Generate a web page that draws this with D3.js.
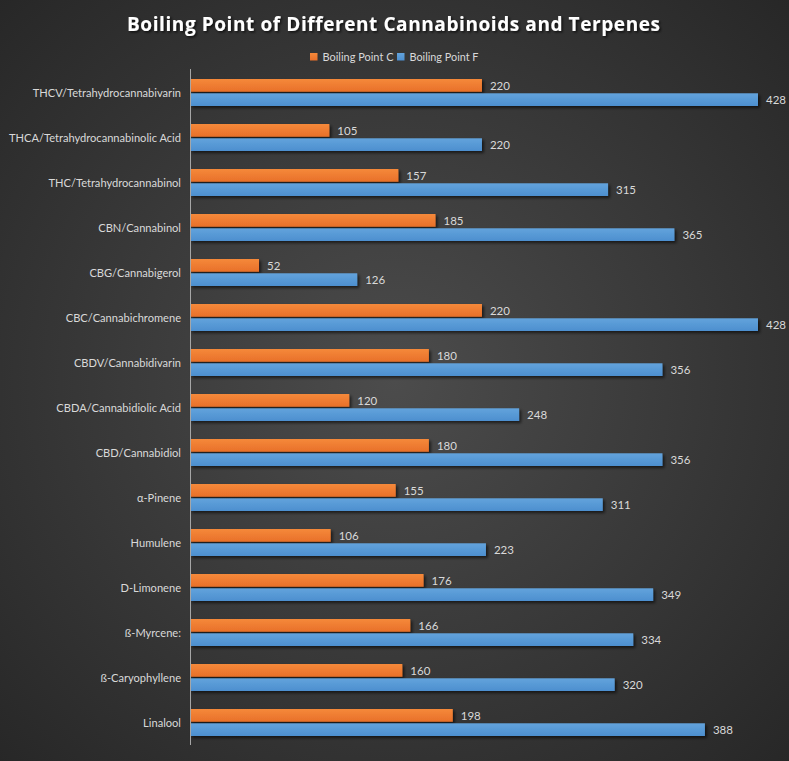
<!DOCTYPE html>
<html><head><meta charset="utf-8">
<script src="https://cdn.jsdelivr.net/npm/d3@7"></script>
<style>html,body{margin:0;padding:0;background:#333;}svg{display:block;}</style>
</head><body>
<script>
const categories = ["THCV/Tetrahydrocannabivarin","THCA/Tetrahydrocannabinolic Acid","THC/Tetrahydrocannabinol","CBN/Cannabinol","CBG/Cannabigerol","CBC/Cannabichromene","CBDV/Cannabidivarin","CBDA/Cannabidiolic Acid","CBD/Cannabidiol","α-Pinene","Humulene","D-Limonene","ß-Myrcene:","ß-Caryophyllene","Linalool"];
const boilingC = [220,105,157,185,52,220,180,120,180,155,106,176,166,160,198];
const boilingF = [428,220,315,365,126,428,356,248,356,311,223,349,334,320,388];
const seriesNames = ["Boiling Point C","Boiling Point F"];
const title = "Boiling Point of Different Cannabinoids and Terpenes";

const W = 789, H = 761;
const svg = d3.select("body").append("svg").attr("width", W).attr("height", H);
const defs = svg.append("defs");
const bg = defs.append("radialGradient").attr("id","bg").attr("cx","50%").attr("cy","50%").attr("r","75%");
bg.append("stop").attr("offset","0%").attr("stop-color","#4c4c4c");
bg.append("stop").attr("offset","100%").attr("stop-color","#252525");
svg.append("rect").attr("width",W).attr("height",H).attr("fill","url(#bg)");

const colors = [["#f5893a","#e8702a"],["#62a3dc","#4d8fcf"]];
colors.forEach((c,i)=>{
  const g = defs.append("linearGradient").attr("id","g"+i).attr("x1",0).attr("y1",0).attr("x2",0).attr("y2",1);
  g.append("stop").attr("offset","0%").attr("stop-color",c[0]);
  g.append("stop").attr("offset","100%").attr("stop-color",c[1]);
});
const sh = defs.append("filter").attr("id","sh").attr("x","-5%").attr("y","-30%").attr("width","115%").attr("height","180%");
sh.append("feDropShadow").attr("dx",2).attr("dy",2).attr("stdDeviation",1.5).attr("flood-color","#000").attr("flood-opacity",0.6);
const tsh = defs.append("filter").attr("id","tsh");
tsh.append("feDropShadow").attr("dx",1.5).attr("dy",1.5).attr("stdDeviation",1).attr("flood-color","#000").attr("flood-opacity",0.7);

const x = d3.scaleLinear().domain([0,428]).range([190,758]);
const y = d3.scaleBand().domain(categories).range([70,745]).paddingInner(0).paddingOuter(0);
const sub = d3.scaleBand().domain(seriesNames).range([9,36]).paddingInner(3/27);

// title
svg.append("text").attr("x",394).attr("y",31).attr("text-anchor","middle")
  .attr("font-family","Open Sans").attr("font-weight","bold").attr("font-size",19)
  .attr("letter-spacing",1).attr("fill","#ffffff").attr("filter","url(#tsh)")
  .attr("textLength",534).attr("lengthAdjust","spacing").text(title);

// legend
const leg = svg.append("g").attr("font-family","Lato").attr("font-size",11.5).attr("fill","#d9d9d9");
const legX = [310,397];
seriesNames.forEach((n,i)=>{
  leg.append("rect").attr("x",legX[i]).attr("y",53).attr("width",7.5).attr("height",7.5).attr("fill",`url(#g${i})`);
  leg.append("text").attr("x",legX[i]+12.5).attr("y",61).attr("textLength",i==0?71:69).attr("lengthAdjust","spacingAndGlyphs").text(n);
});

// bars
const series = [boilingC, boilingF];
const g = svg.append("g");
categories.forEach((cat,ci)=>{
  series.forEach((vals,si)=>{
    const by = y(cat)+sub(seriesNames[si]);
    g.append("rect").attr("x",x(0)).attr("y",by).attr("width",x(vals[ci])-x(0)).attr("height",sub.bandwidth())
      .attr("fill",`url(#g${si})`).attr("filter","url(#sh)");
    g.append("text").attr("x",x(vals[ci])+8).attr("y",by+sub.bandwidth()/2+4.5)
      .attr("font-family","Lato").attr("font-size",11.5).attr("fill","#d9d9d9").text(vals[ci]);
  });
});

// axis
const axis = d3.axisLeft(y).tickSize(0).tickPadding(9);
const ag = svg.append("g").attr("transform",`translate(${x(0)},0)`).call(axis);
ag.select(".domain").attr("stroke","#a6a6a6").attr("stroke-width",1).attr("d","M0.5,69V745");
ag.selectAll("text").attr("font-family","Lato").attr("font-size",11.1).attr("fill","#d9d9d9").attr("dy","0.4em");
</script>
</body></html>
